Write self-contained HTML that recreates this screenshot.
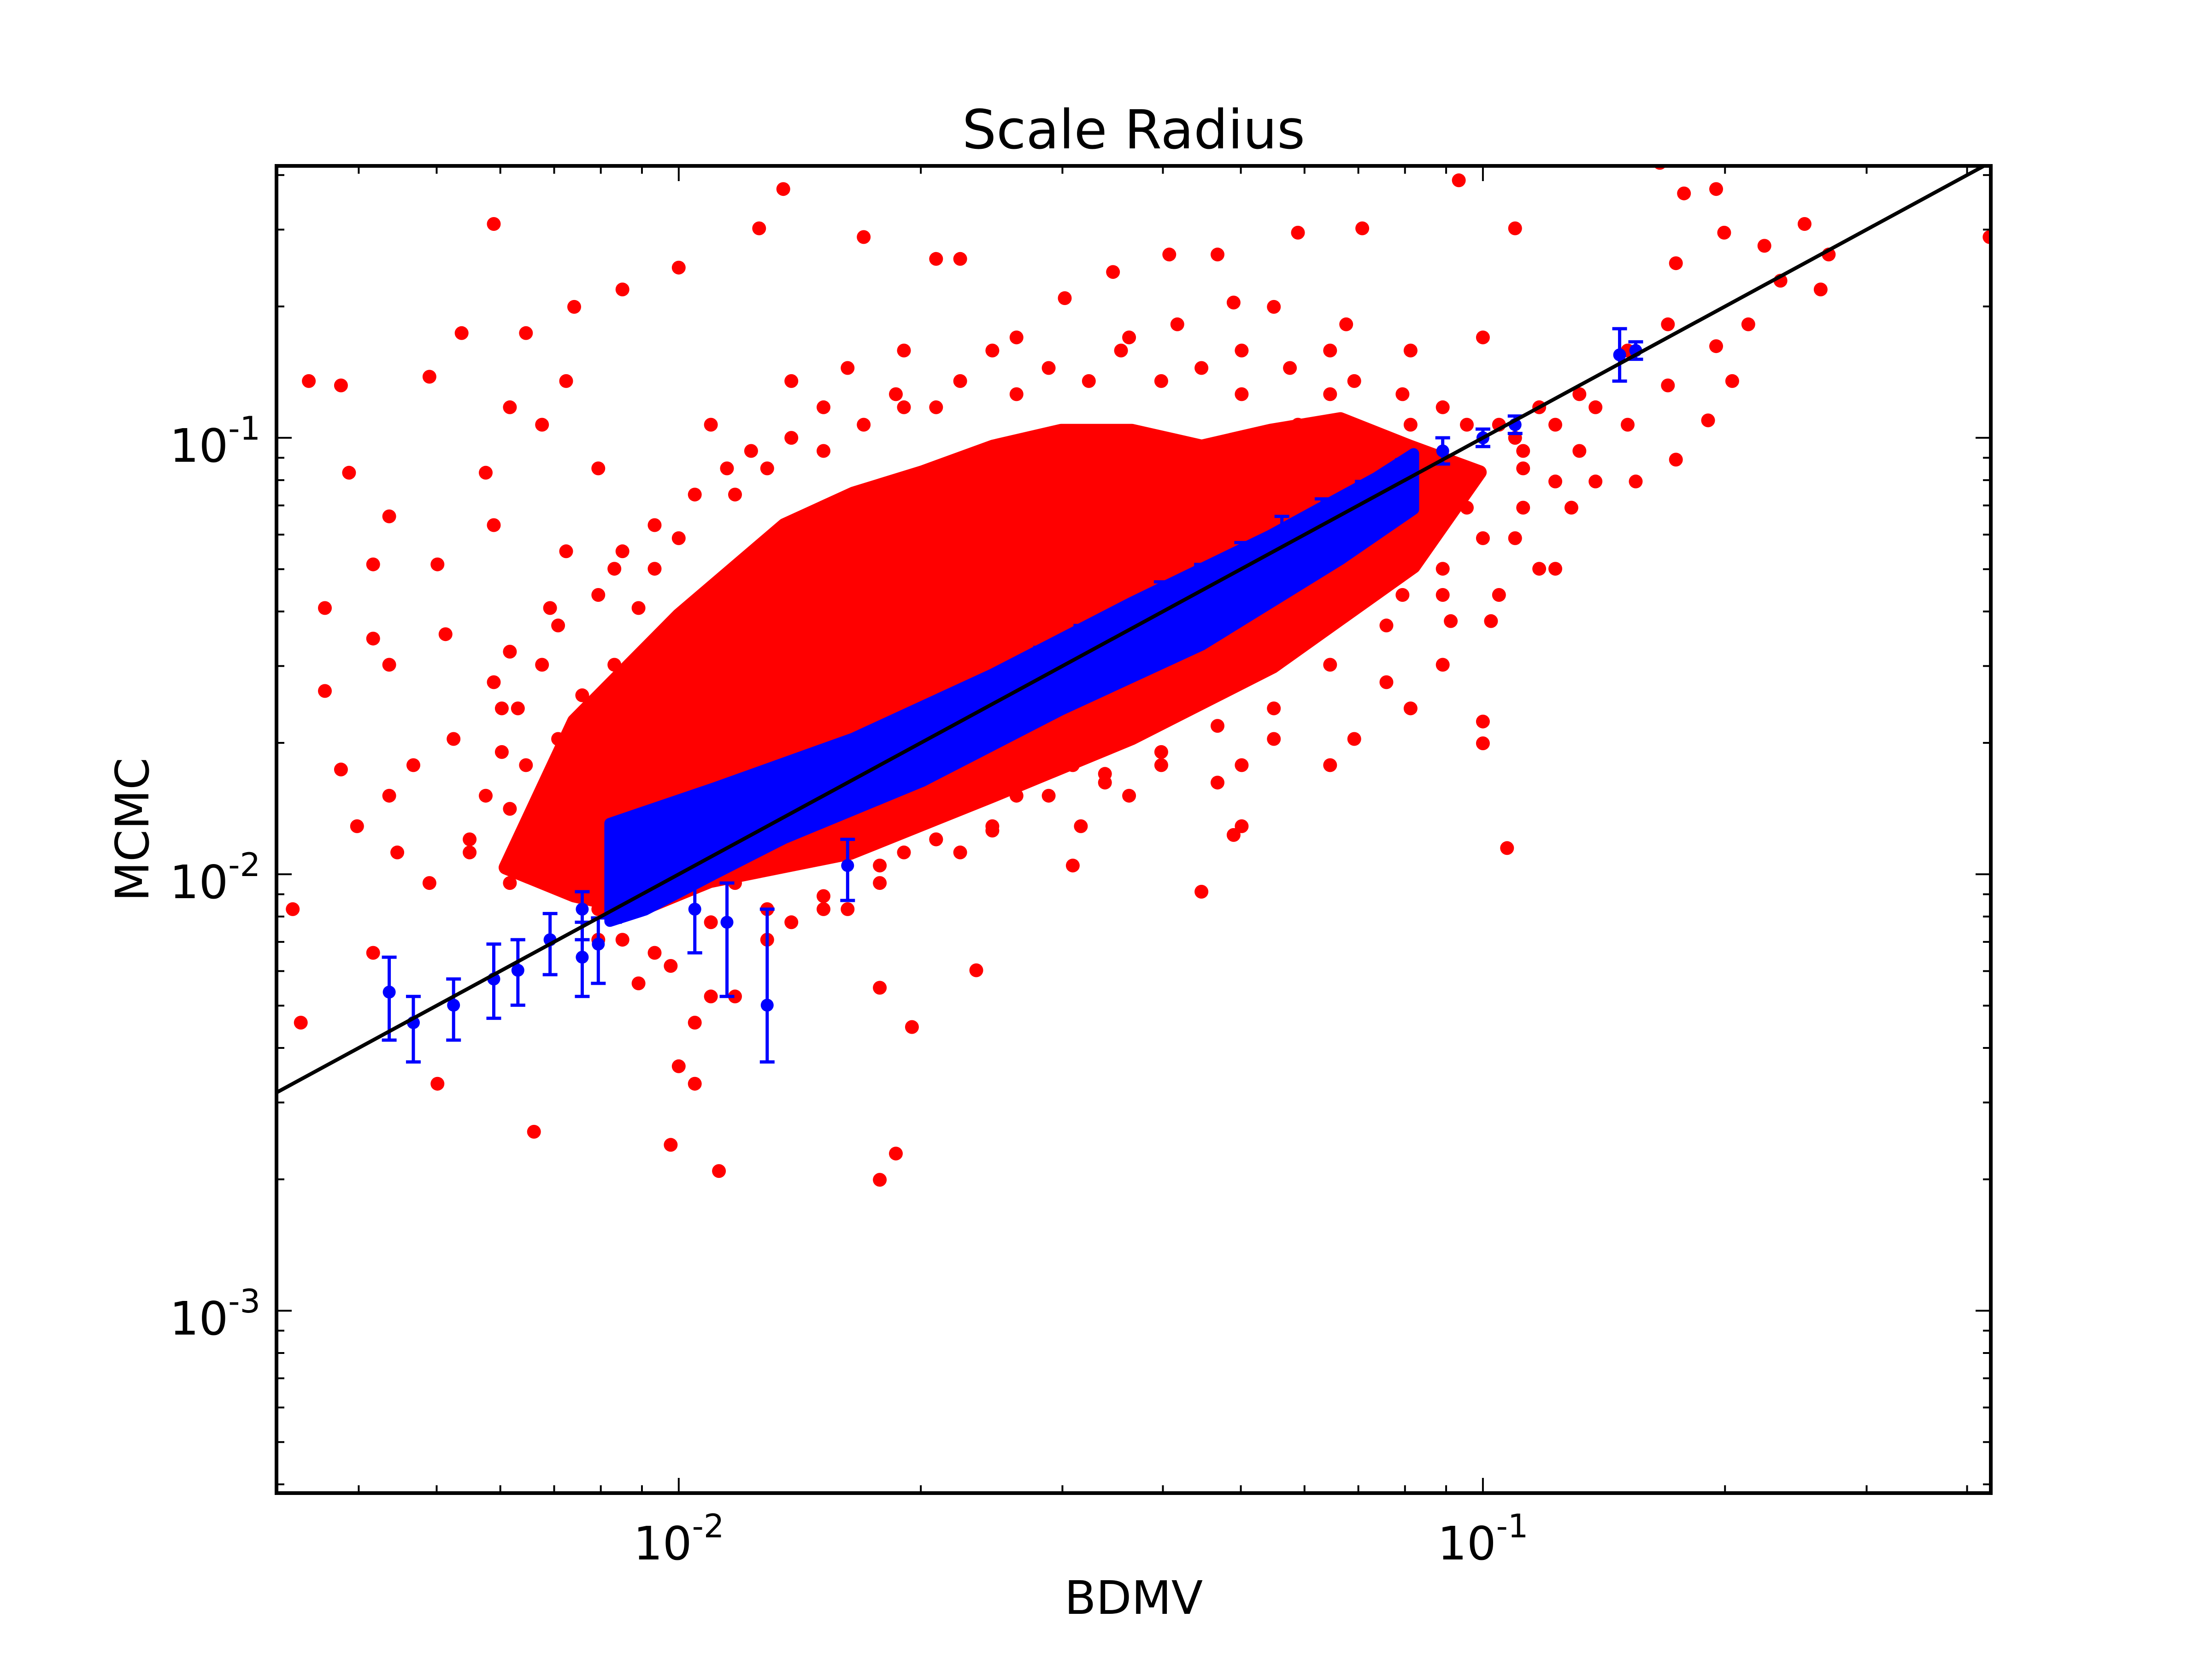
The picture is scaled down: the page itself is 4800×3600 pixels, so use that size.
<!DOCTYPE html>
<html><head><meta charset="utf-8"><title>Scale Radius</title>
<style>html,body{margin:0;padding:0;background:#fff}svg{display:block}text{font-family:"DejaVu Sans","Liberation Sans",sans-serif}</style>
</head><body>
<svg id="chart" width="4800" height="3600" viewBox="0 0 4800 3600" xmlns="http://www.w3.org/2000/svg">
<rect width="4800" height="3600" fill="#fff"/>
<defs><clipPath id="clip"><rect x="600" y="360" width="3720" height="2880"/></clipPath></defs>
<g id="plot" clip-path="url(#clip)"></g>
<g id="axes"></g>
<text x="2460" y="322" font-size="117" text-anchor="middle">Scale Radius</text>
<text x="2460" y="3502" font-size="100" text-anchor="middle">BDMV</text>
<text x="0" y="0" font-size="100" text-anchor="middle" transform="translate(322,1800) rotate(-90)">MCMC</text>
</svg>
<script>
// axis limits (data units, log scale)
const xLim = [0.003161, 0.4281];
const yLim = [0.000382, 0.4198];
const xTickExp = [-2, -1];
const yTickExp = [-3, -2, -1];
// dense red core region outline (data values)
const redCoreX = [0.00741,0.0100,0.01353,0.01648,0.0201,0.0246,0.0299,0.0366,0.0447,0.0544,0.0665,0.0811,0.0991,0.0820,0.0548,0.0366,0.0245,0.01637,0.01093,0.00894,0.00741,0.00609];
const redCoreY = [0.02244,0.0392,0.0631,0.0745,0.0834,0.0955,0.1038,0.1038,0.0955,0.1038,0.1104,0.0955,0.0834,0.0507,0.0299,0.0205,0.0151,0.01120,0.00964,0.00828,0.00894,0.01036];
// dense blue band outline (data values)
const blueBandX = [0.00821,0.01106,0.01648,0.0246,0.0366,0.0544,0.0736,0.0820,0.0820,0.0665,0.0447,0.0299,0.0201,0.01353,0.01106,0.00908,0.00821];
const blueBandY = [0.01308,0.01576,0.0205,0.0288,0.0420,0.0598,0.0810,0.0920,0.0686,0.0526,0.0335,0.0238,0.01633,0.01208,0.0100,0.00828,0.00780];
// red scatter (log10 of BDMV / MCMC)
const redLogX = [-2.46,-2.42,-2.41,-2.44,-2.44,-2.42,-2.40,-2.38,-2.36,-2.31,-2.27,-2.23,-2.19,-2.13,-2.14,-2.30,-2.29,-2.24,-2.23,-2.38,-2.48,-2.47,-2.30,-2.18,-2.01,-2.00,-1.98,-1.95,-1.73,-1.75,-1.75,-1.71,-1.63,-1.51,-1.50,-1.30,-1.31,-1.35,-0.97,-1.00,-1.00,-1.04,-0.99,-0.93,-0.76,-0.72,-0.69,-0.71,-0.77,-0.76,-0.70,-0.65,-0.60,-0.57,-0.58,-0.37,-0.71,-0.75,-0.78,-1.03,-0.96,-1.15,-1.23,-1.33,-1.39,-1.46,-1.52,-1.68,-1.65,-1.77,-1.87,-1.90,-2.00,-2.07,-2.16,-2.10,-2.21,-1.26,-1.17,-1.38,-1.58,-1.72,-1.86,-1.00,-0.88,-0.82,-0.89,-0.86,-1.05,-1.12,-1.19,-1.26,-1.33,-1.44,-1.51,-1.61,-1.68,-1.75,-1.82,-1.89,-1.96,-2.01,-2.07,-2.10,-2.14,-2.17,-2.21,-2.26,-2.31,-2.35,-2.28,-2.22,-2.21,-2.14,-2.08,-2.17,-1.96,-1.79,-1.61,-1.44,-1.31,-1.09,-0.98,-0.93,-1.09,-1.03,-1.16,-1.05,-1.10,-1.16,-1.09,-1.16,-1.30,-1.40,-1.47,-1.58,-1.65,-1.72,-1.79,-1.86,-1.93,-1.98,-2.05,-2.01,-2.07,-2.12,-2.15,-2.08,-2.05,-2.03,-2.00,-1.93,-1.89,-1.82,-1.72,-1.23,-1.19,-1.30,-0.86,-2.36,-2.33,-2.36,-2.38,-0.82,-0.77,-0.63,-0.67,-0.95,-0.96,-0.91,-0.81,-1.02,-0.98,-0.91,-1.45,-1.51,-1.40,-1.86,-1.93,
 -2.17,-2.15,-2.10,-2.07,-2.03,-1.98,-1.94,-1.91,-1.86,-1.82,-1.77,-1.73,-1.68,-1.65,-1.58,-1.54,-1.49,-1.45,-1.40,-1.35,-1.30,-1.24,-1.19,-1.16,-1.10,-1.05,-1.02,-0.96,-0.95,
 -2.10,-2.03,-1.96,-1.89,-1.82,-1.75,-1.68,-1.61,-1.54,-1.47,-1.40,-1.33,-1.26,-1.19,-1.12,-1.05,-1.00,-0.95,-0.91,-0.88,
 -2.24,-2.22,-2.20,-2.19,-2.16,-2.21,-2.26,-2.23];
const redLogY = [-0.87,-0.88,-1.08,-1.39,-1.58,-1.76,-1.89,-1.29,-1.18,-0.86,-0.76,-0.51,-0.76,-0.70,-0.87,-1.29,-1.45,-1.08,-1.20,-2.18,-2.08,-2.34,-2.48,-2.59,-2.62,-2.44,-2.48,-2.68,-2.64,-2.70,-2.26,-2.35,-2.22,-1.98,-1.89,-1.89,-1.91,-2.04,-1.94,-1.65,-1.70,-1.42,-1.42,-1.30,-1.05,-0.96,-0.87,-0.79,-0.88,-0.60,-0.53,-0.56,-0.51,-0.58,-0.66,-0.54,-0.43,-0.44,-0.37,-0.41,-0.52,-0.52,-0.53,-0.58,-0.58,-0.62,-0.68,-0.59,-0.59,-0.54,-0.43,-0.52,-0.61,-0.66,-1.39,-1.07,-0.93,-0.70,-0.74,-0.74,-0.77,-0.80,-0.87,-0.77,-0.90,-0.97,-1.16,-1.10,-1.52,-1.56,-1.75,-1.69,-1.79,-1.82,-1.75,-1.89,-1.92,-2.02,-2.08,-2.15,-2.28,-2.21,-2.15,-2.08,-1.98,-1.92,-1.85,-1.95,-2.02,-1.95,-1.69,-1.62,-1.49,-1.26,-1.30,-0.97,-0.97,-0.84,-0.80,-0.77,-0.69,-0.80,-0.97,-0.93,-0.97,-1.07,-1.13,-1.30,-1.36,-1.39,-1.62,-1.69,-1.75,-1.72,-1.77,-1.82,-1.95,-1.95,-2.08,-2.11,-2.28,-2.34,-2.25,-1.95,-1.82,-1.59,-1.69,-1.52,-1.39,-1.30,-1.23,-1.13,-1.07,-1.03,-0.93,-0.97,-0.90,-0.90,-0.93,-1.82,-1.75,-1.52,-1.46,-0.80,-0.74,-0.64,-0.74,-1.07,-1.23,-0.97,-1.10,-1.16,-1.36,-1.30,-1.52,-1.62,-1.62,-1.95,-2.02,
 -1.52,-1.43,-1.36,-1.26,-1.20,-1.13,-1.07,-1.03,-1.00,-0.93,-0.97,-0.90,-0.93,-0.87,-0.90,-0.84,-0.87,-0.80,-0.87,-0.84,-0.80,-0.84,-0.80,-0.87,-0.90,-0.93,-0.97,-1.00,-1.03,
 -2.15,-2.18,-2.11,-2.08,-2.05,-1.98,-1.92,-1.90,-1.82,-1.79,-1.75,-1.66,-1.62,-1.52,-1.43,-1.36,-1.23,-1.16,-1.10,-1.03,
 -1.82,-1.72,-1.62,-1.75,-1.95,-2.02,-1.92,-1.56];
// blue points with error bars (log10)
const blueLogX = [-2.36,-2.33,-2.28,-2.23,-2.20,-2.16,-2.12,-2.12,-2.10,-2.08,-1.89,-1.94,-1.98,-1.79,-0.83,-0.81,-0.96,-1.00,-2.05,-2.00,-1.95,-1.90,-1.85,-1.80,-1.75,-1.70,-1.65,-1.60,-1.55,-1.50,-1.45,-1.40,-1.35,-1.30,-1.25,-1.20,-1.15,-1.10,-1.05];
const blueLogY = [-2.27,-2.34,-2.30,-2.24,-2.22,-2.15,-2.19,-2.08,-2.16,-2.05,-2.30,-2.11,-2.08,-1.98,-0.81,-0.80,-0.97,-1.00,-2.02,-1.96,-1.93,-1.86,-1.83,-1.77,-1.71,-1.68,-1.62,-1.58,-1.52,-1.47,-1.43,-1.37,-1.33,-1.28,-1.22,-1.18,-1.13,-1.08,-1.03];
const blueErrHi = [-2.19,-2.28,-2.24,-2.16,-2.15,-2.09,-2.11,-2.04,-2.10,-2.00,-2.08,-2.02,-2.00,-1.92,-0.75,-0.78,-0.95,-0.98,-1.97,-1.92,-1.89,-1.82,-1.79,-1.73,-1.67,-1.64,-1.58,-1.54,-1.48,-1.43,-1.39,-1.33,-1.29,-1.24,-1.18,-1.14,-1.10,-1.05,-1.00];
const blueErrLo = [-2.38,-2.43,-2.38,-2.33,-2.30,-2.23,-2.28,-2.15,-2.25,-2.11,-2.43,-2.28,-2.18,-2.06,-0.87,-0.82,-0.99,-1.02,-2.07,-2.00,-1.97,-1.90,-1.87,-1.81,-1.75,-1.72,-1.66,-1.62,-1.56,-1.51,-1.47,-1.41,-1.37,-1.32,-1.26,-1.22,-1.16,-1.11,-1.06];

const NS='http://www.w3.org/2000/svg';
const L=600,R=4320,T=360,B=3240;
const lx0=Math.log10(xLim[0]),lx1=Math.log10(xLim[1]),ly0=Math.log10(yLim[0]),ly1=Math.log10(yLim[1]);
function X(v){return L+(Math.log10(v)-lx0)/(lx1-lx0)*(R-L);}
function Y(v){return B-(Math.log10(v)-ly0)/(ly1-ly0)*(B-T);}
const plot=document.getElementById('plot'),axes=document.getElementById('axes');
function mk(tag,attrs,parent){const e=document.createElementNS(NS,tag);for(const k in attrs)e.setAttribute(k,attrs[k]);parent.appendChild(e);return e;}

let pts=redCoreX.map((v,i)=>X(v).toFixed(1)+','+Y(redCoreY[i]).toFixed(1)).join(' ');
let rc=mk('polygon',{points:pts,fill:'#ff0000',stroke:'#ff0000','stroke-width':30,'stroke-linejoin':'round'},plot);


redLogX.forEach((lx,i)=>{
  const c=mk('circle',{cx:X(Math.pow(10,lx)).toFixed(1),cy:Y(Math.pow(10,redLogY[i])).toFixed(1),r:15,fill:'#ff0000'},plot);
  
  
});
pts=blueBandX.map((v,i)=>X(v).toFixed(1)+','+Y(blueBandY[i]).toFixed(1)).join(' ');
let bb=mk('polygon',{points:pts,fill:'#0000ff',stroke:'#0000ff','stroke-width':24,'stroke-linejoin':'round'},plot);


blueLogX.forEach((lx,i)=>{
  const x=X(Math.pow(10,lx)),yh=Y(Math.pow(10,blueErrHi[i])),yl=Y(Math.pow(10,blueErrLo[i]));
  const g=mk('g',{stroke:'#0000ff','stroke-width':7},plot);
  
  
  mk('line',{x1:x,x2:x,y1:yh,y2:yl},g);
  mk('line',{x1:x-16,x2:x+16,y1:yh,y2:yh},g);
  mk('line',{x1:x-16,x2:x+16,y1:yl,y2:yl},g);
  const c=mk('circle',{cx:x.toFixed(1),cy:Y(Math.pow(10,blueLogY[i])).toFixed(1),r:14,fill:'#0000ff'},plot);
  
  
});
const ln=mk('line',{x1:X(xLim[0]),y1:Y(xLim[0]),x2:X(xLim[1]),y2:Y(xLim[1]),stroke:'#000','stroke-width':8},plot);



function tickG(name){const g=mk('g',{stroke:'#000','stroke-width':4},axes);return g;}
const gx=tickG('x-ticks'),gy=tickG('y-ticks');
for(let d=-4;d<=0;d++)for(let m=1;m<=9;m++){
  const v=m*Math.pow(10,d),len=m===1?33:17;
  if(v>=xLim[0]&&v<=xLim[1]){const x=X(v);mk('line',{x1:x,x2:x,y1:B,y2:B-len},gx);mk('line',{x1:x,x2:x,y1:T,y2:T+len},gx);}
  if(v>=yLim[0]&&v<=yLim[1]){const y=Y(v);mk('line',{x1:L,x2:L+len,y1:y,y2:y},gy);mk('line',{x1:R,x2:R-len,y1:y,y2:y},gy);}
}
xTickExp.forEach(e=>{
  const t=mk('text',{x:X(Math.pow(10,e)),y:3384,'font-size':100,'text-anchor':'middle'},axes);
  
  
  t.innerHTML='10<tspan font-size="70" dy="-48">'+(e<0?'-':'')+Math.abs(e)+'</tspan>';
});
yTickExp.forEach(e=>{
  const t=mk('text',{x:565,y:Y(Math.pow(10,e))+52,'font-size':100,'text-anchor':'end'},axes);
  
  
  t.innerHTML='10<tspan font-size="70" dy="-48">'+(e<0?'-':'')+Math.abs(e)+'</tspan>';
});
const fr=mk('rect',{x:L,y:T,width:R-L,height:B-T,fill:'none',stroke:'#000','stroke-width':8},axes);


</script>
</body></html>
